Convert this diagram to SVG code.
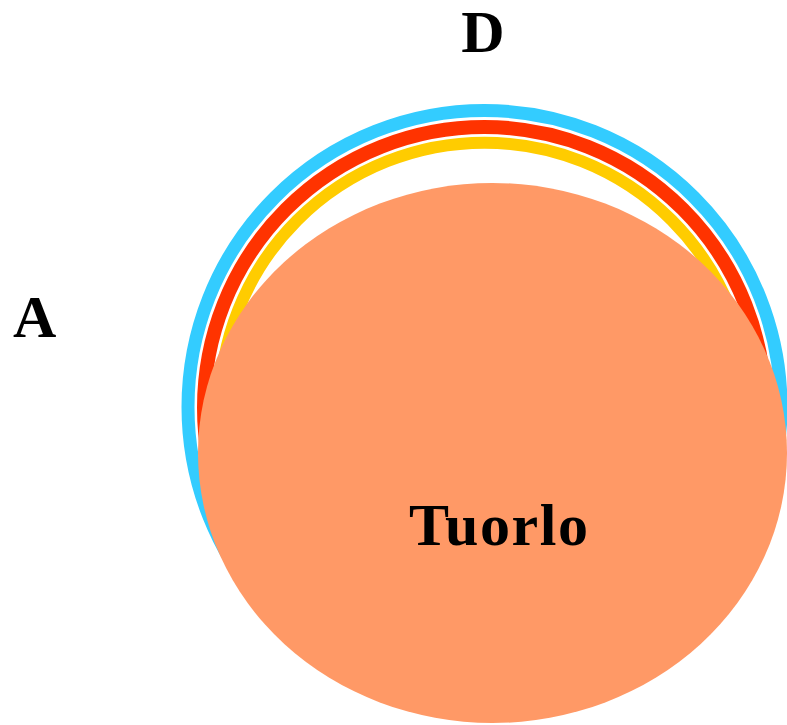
<svg xmlns="http://www.w3.org/2000/svg" width="787" height="725" viewBox="0 0 787 725">
<style>
.ring{fill:none}
.lbl{font-family:"Liberation Serif","Times New Roman",serif;font-weight:bold;font-size:60px;fill:#000}
</style>
<rect width="787" height="725" fill="#fff"/>
<g id="blue">
<circle class="ring" cx="484.5" cy="407" r="296.5" stroke="#33CCFF" stroke-width="13"/>
</g>
<g id="red">
<circle class="ring" cx="484.5" cy="407.5" r="280.5" stroke="#FF3300" stroke-width="14"/>
</g>
<g id="yellow">
<circle class="ring" cx="484.5" cy="407.5" r="264.8" stroke="#FFCC00" stroke-width="12"/>
</g>
<g id="tuorlo">
<ellipse cx="492.5" cy="453" rx="294.5" ry="270" fill="#FF9966"/>
<text class="lbl" x="409" y="545" textLength="179" lengthAdjust="spacing">Tuorlo</text>
</g>
<g id="labelD"><text class="lbl" x="483" y="52" text-anchor="middle">D</text></g>
<g id="labelA"><text class="lbl" x="13" y="337">A</text></g>
</svg>
